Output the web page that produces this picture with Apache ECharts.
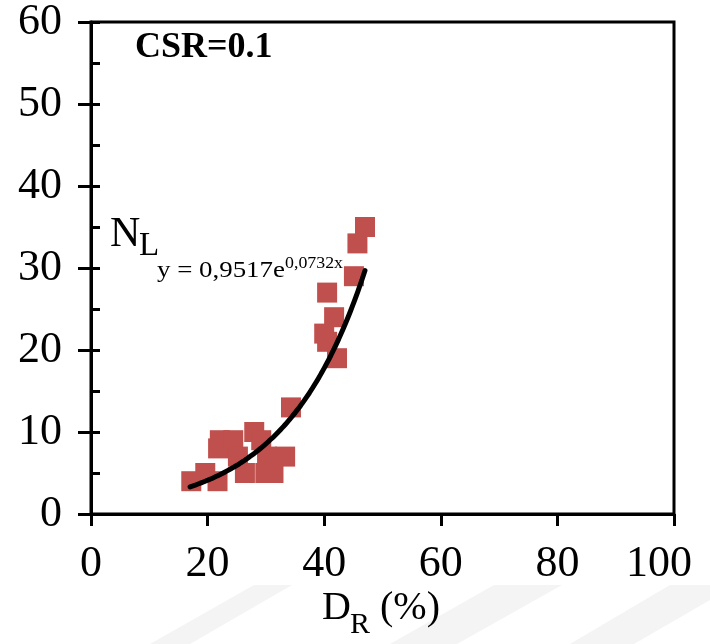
<!DOCTYPE html>
<html>
<head>
<meta charset="utf-8">
<script src="https://cdn.jsdelivr.net/npm/echarts@6/dist/echarts.min.js"></script>
<style>
  html, body { margin: 0; padding: 0; background: #fff; }
  #chart { width: 710px; height: 644px; }
</style>
</head>
<body>
<div id="chart"></div>
<script>
// Relative density D_R (%) and number of cycles to liquefaction N_L, CSR = 0.1
const drValues = [17.2, 19.6, 21.7, 21.8, 22.1, 24.4, 25.2, 26.4, 28.0, 29.2, 29.9, 30.2, 31.3, 33.3, 34.3,
                  40.0, 40.5, 40.5, 41.7, 42.2, 45.1, 45.7, 47.0];
const nlValues = [4, 5, 4, 8, 9, 9, 7, 5, 10, 9, 5, 7, 5, 7, 13,
                  22, 21, 27, 24, 19, 29, 33, 35];

// Exponential trend line y = a * e^(b x), as given in the equation label
const fitA = 0.9517;
const fitB = 0.0732;
const fitFrom = 17;
const fitTo = 47;

const xTicks = [0, 20, 40, 60, 80, 100];
const yTicks = [0, 10, 20, 30, 40, 50, 60];

const scatterData = drValues.map((x, i) => [x, nlValues[i]]);
const trendData = [];
for (let x = fitFrom; x <= fitTo + 1e-9; x += 0.5) {
  trendData.push([x, fitA * Math.exp(fitB * x)]);
}

const serif = '"Liberation Serif", "Times New Roman", serif';
const chart = echarts.init(document.getElementById('chart'), null, { renderer: 'canvas' });

// faint diagonal bands in the page background
const bandColor = '#f4f4f4';
const bands = [
  [[254, 585], [292, 585], [190, 644], [150, 644]],
  [[494, 585], [562, 585], [457, 644], [390, 644]],
  [[670, 585], [710, 585], [710, 600], [634, 644], [570, 644]]
];

chart.setOption({
  animation: false,
  backgroundColor: '#fff',
  grid: {
    left: 91, right: 36, top: 17, bottom: 130,
    show: true, borderColor: '#000', borderWidth: 3, backgroundColor: 'transparent'
  },
  xAxis: {
    type: 'value',
    min: xTicks[0], max: xTicks[xTicks.length - 1], interval: 20,
    axisLine: { show: true, onZero: false, lineStyle: { color: '#000', width: 3 } },
    axisTick: { show: true, length: 12, lineStyle: { color: '#000', width: 3 } },
    axisLabel: {
      fontFamily: serif, fontSize: 44, color: '#000', margin: 28,
      formatter: v => (v === xTicks[xTicks.length - 1] ? '{last|' + v + '}' : String(v)),
      rich: { last: { fontFamily: serif, fontSize: 44, color: '#000', padding: [0, 30, 0, 0] } }
    },
    splitLine: { show: false }
  },
  yAxis: [
    {
      type: 'value',
      min: yTicks[0], max: yTicks[yTicks.length - 1], interval: 10,
      axisLine: { show: true, onZero: false, lineStyle: { color: '#000', width: 3 } },
      axisTick: { show: true, length: 13, lineStyle: { color: '#000', width: 3 } },
      axisLabel: { fontFamily: serif, fontSize: 44, color: '#000', margin: 29 },
      splitLine: { show: false }
    },
    {
      type: 'value', position: 'left',
      min: yTicks[0], max: yTicks[yTicks.length - 1], interval: 5,
      axisLine: { show: false },
      axisTick: { show: true, inside: true, length: 9, lineStyle: { color: '#000', width: 3 } },
      axisLabel: { show: false },
      splitLine: { show: false }
    }
  ],
  series: [
    {
      name: 'N_L',
      type: 'scatter',
      yAxisIndex: 0,
      symbol: 'rect',
      symbolSize: 20,
      itemStyle: { color: '#C0504D', opacity: 1 },
      data: scatterData,
      z: 2
    },
    {
      name: 'trend',
      type: 'line',
      yAxisIndex: 0,
      data: trendData,
      showSymbol: false,
      smooth: true,
      lineStyle: { color: '#000', width: 5, cap: 'round' },
      z: 3
    }
  ],
  graphic: bands.map(pts => ({
    type: 'polygon', z: -10, silent: true,
    shape: { points: pts },
    style: { fill: bandColor }
  })).concat([
    { type: 'text', left: 135, top: 30,
      style: { text: 'CSR=0.1', font: 'bold 36px ' + serif, fill: '#000' } },
    { type: 'text', left: 110, top: 214,
      style: { text: 'N', font: '42px ' + serif, fill: '#000' } },
    { type: 'text', left: 139, top: 230,
      style: { text: 'L', font: '33px ' + serif, fill: '#000' } },
    { type: 'text', x: 157, y: 259, scaleX: 1.12,
      style: { text: 'y = 0,9517e', font: '24px ' + serif, fill: '#000' } },
    { type: 'text', x: 285, y: 255, scaleX: 1.05,
      style: { text: '0,0732x', font: '17px ' + serif, fill: '#000' } },
    { type: 'text', left: 322, top: 588,
      style: { text: 'D', font: '40px ' + serif, fill: '#000' } },
    { type: 'text', left: 350, top: 610,
      style: { text: 'R', font: '30px ' + serif, fill: '#000' } },
    { type: 'text', left: 370, top: 588,
      style: { text: ' (%)', font: '40px ' + serif, fill: '#000' } }
  ])
});
</script>
</body>
</html>
